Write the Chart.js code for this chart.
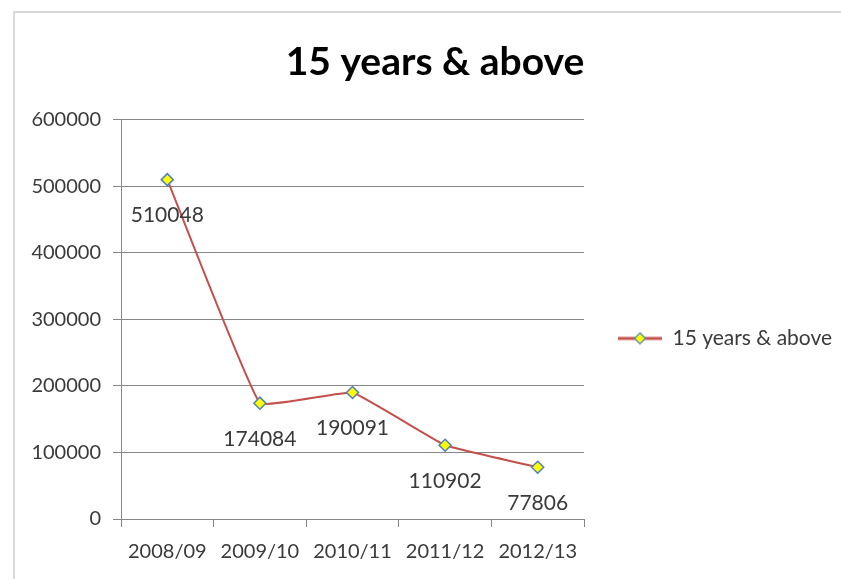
<!DOCTYPE html>
<html>
<head>
<meta charset="utf-8">
<script src="https://cdn.jsdelivr.net/npm/chart.js@4/dist/chart.umd.min.js"></script>
<style>
  html, body { margin: 0; padding: 0; background: #fff; }
  #wrap { width: 841px; height: 579px; }
</style>
</head>
<body>
<div id="wrap"><canvas id="myChart" width="841" height="579"></canvas></div>
<script>
const years = ["2008/09", "2009/10", "2010/11", "2011/12", "2012/13"];
const persons = [510048, 174084, 190091, 110902, 77806];
const seriesName = "15 years & above";
const yTicks = [0, 100000, 200000, 300000, 400000, 500000, 600000];

const lineColor = "#c4504c";
const textColor = "#3a3a3a";
const fontFamily = "Lato, 'Open Sans', sans-serif";

// little picture for the legend: line with a diamond in the middle
const legendIcon = document.createElement("canvas");
legendIcon.width = 68;
legendIcon.height = 14;
{
  const c = legendIcon.getContext("2d");
  c.strokeStyle = lineColor;
  c.lineWidth = 3;
  c.beginPath();
  c.moveTo(24, 7);
  c.lineTo(68, 7);
  c.stroke();
  c.fillStyle = "#ffff00";
  c.strokeStyle = "#4f81bd";
  c.lineWidth = 1.2;
  c.beginPath();
  c.moveTo(46, 1.5);
  c.lineTo(51.5, 7);
  c.lineTo(46, 12.5);
  c.lineTo(40.5, 7);
  c.closePath();
  c.fill();
  c.stroke();
}

const frame = {
  id: "frame",
  beforeDraw(chart) {
    const c = chart.ctx;
    c.save();
    c.strokeStyle = "#d9d9d9";
    c.lineWidth = 2;
    c.beginPath();
    c.moveTo(14, 579);
    c.lineTo(14, 12);
    c.lineTo(841, 12);
    c.stroke();
    c.restore();
  },
};

const valueLabels = {
  id: "valueLabels",
  afterDatasetsDraw(chart) {
    const c = chart.ctx;
    const meta = chart.getDatasetMeta(0);
    c.save();
    c.font = "21px " + fontFamily;
    c.fillStyle = textColor;
    c.textAlign = "center";
    c.textBaseline = "middle";
    meta.data.forEach((pt, i) => {
      c.fillText(String(persons[i]), pt.x, pt.y + 36);
    });
    c.restore();
  },
};

const ctx = document.getElementById("myChart");

new Chart(ctx, {
  type: "line",
  data: {
    labels: years,
    datasets: [
      {
        label: seriesName,
        data: persons,
        borderColor: lineColor,
        borderWidth: 2,
        tension: 0.08,
        pointStyle: "rectRot",
        pointRadius: 6,
        pointBackgroundColor: "#ffff00",
        pointBorderColor: "#4f81bd",
        pointBorderWidth: 1.5,
      },
    ],
  },
  options: {
    responsive: false,
    animation: false,
    layout: { padding: { top: 12, left: 29, right: 0, bottom: 2 } },
    plugins: {
      title: {
        display: true,
        text: seriesName,
        color: "#000",
        font: { family: fontFamily, size: 39, weight: "bold" },
        padding: { top: 27, bottom: 34 },
      },
      legend: {
        position: "right",
        fullSize: false,
        maxWidth: 257,
        // empty legend title only pushes the entry down to where it sits in the picture
        title: { display: true, text: "", font: { size: 10 }, padding: { top: 0, bottom: 26 } },
        labels: {
          usePointStyle: true,
          pointStyleWidth: 68,
          padding: 10,
          color: textColor,
          font: { family: fontFamily, size: 21 },
          generateLabels: (chart) => [
            {
              text: seriesName,
              pointStyle: legendIcon,
              fontColor: textColor,
              lineWidth: 0,
              datasetIndex: 0,
            },
          ],
        },
      },
      tooltip: { enabled: false },
    },
    scales: {
      x: {
        offset: true,
        grid: { offset: true, drawOnChartArea: false, color: "#868686", tickLength: 8 },
        border: { color: "#868686" },
        ticks: { color: textColor, font: { family: fontFamily, size: 20 }, padding: 13 },
      },
      y: {
        min: 0,
        max: 600000,
        afterBuildTicks: (axis) => {
          axis.ticks = yTicks.map((v) => ({ value: v }));
        },
        afterFit: (axis) => {
          axis.width = 92;
        },
        grid: { color: "#868686", tickLength: 8 },
        border: { color: "#868686" },
        ticks: {
          color: textColor,
          font: { family: fontFamily, size: 20 },
          padding: 12,
          callback: (v) => String(v),
        },
      },
    },
  },
  plugins: [frame, valueLabels],
});
</script>
</body>
</html>
